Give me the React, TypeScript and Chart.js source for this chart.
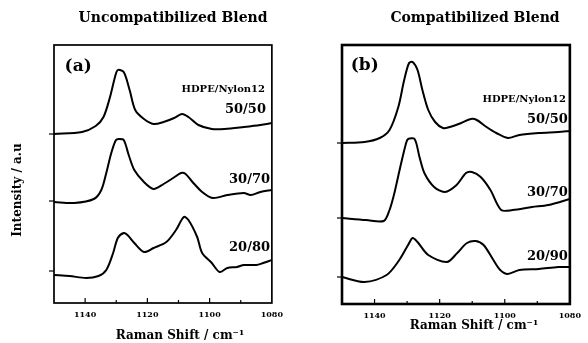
import { useEffect, useRef } from "react";
import { Chart, registerables } from "chart.js";

Chart.register(...registerables);

// Raman shift (cm⁻¹) and offset intensity (a.u.) for the uncompatibilized blends
const shiftA5050 = [1150, 1141, 1136.6, 1134.1, 1132, 1130.4, 1129.5, 1127.6, 1125.7, 1123.9, 1121.1, 1118, 1114.8, 1111.4, 1108.9, 1106.8, 1103.6, 1099.3, 1095.2, 1089, 1083.7, 1080];
const intA5050 = [169, 171, 177, 186, 206, 226, 233, 231, 213, 193, 184, 179, 181, 185, 189, 186, 178, 174, 174, 176, 178, 180];

const shiftA3070 = [1150, 1143.5, 1137.2, 1134.8, 1133.2, 1131.6, 1130.1, 1129.2, 1127.6, 1126, 1124.2, 1121.1, 1118, 1114.8, 1111.7, 1109.2, 1107.7, 1105.5, 1102.4, 1099, 1094.3, 1089, 1086.8, 1083.7, 1080];
const intA3070 = [101, 100, 104, 113, 130, 150, 163, 164, 163, 148, 133, 121, 114, 119, 125, 130, 129, 121, 111, 105, 108, 110, 108, 111, 113];

const shiftA2080 = [1150, 1145, 1139.7, 1135.7, 1133.2, 1131, 1129.5, 1127.6, 1126.4, 1124.2, 1121.1, 1118, 1113.9, 1110.8, 1108.3, 1106.8, 1104, 1102.4, 1099.3, 1096.8, 1094.3, 1091.2, 1089, 1085, 1082.8, 1080];
const intA2080 = [28, 27, 25, 27, 33, 50, 65, 70, 68, 60, 51, 55, 61, 73, 86, 83, 66, 50, 40, 31, 35, 36, 38, 38, 40, 43];

// Raman shift (cm⁻¹) and offset intensity (a.u.) for the compatibilized blends
const shiftB5050 = [1150, 1143.1, 1138.4, 1135.4, 1132.7, 1130.9, 1129.4, 1128.3, 1126.8, 1125.3, 1123.5, 1121.4, 1119, 1116.9, 1113.4, 1110.4, 1108.6, 1105.6, 1102.6, 1099.1, 1095.5, 1089.5, 1083.6, 1080];
const intB5050 = [161, 162, 166, 174, 197, 224, 241, 242, 234, 214, 194, 182, 176, 177, 181, 185, 184, 177, 171, 166, 169, 171, 172, 173];

const shiftB3070 = [1150, 1142.6, 1137.2, 1135.4, 1133.9, 1132.1, 1130.3, 1129.7, 1127.7, 1126.2, 1124.7, 1121.7, 1118.4, 1114.8, 1111.9, 1110.1, 1107.4, 1104.4, 1101.1, 1097.6, 1091.6, 1086.6, 1080];
const intB3070 = [86, 84, 83, 94, 111, 137, 161, 165, 165, 147, 131, 117, 112, 119, 131, 132, 127, 114, 94, 94, 97, 99, 105];

const shiftB2090 = [1150, 1143.1, 1136.3, 1132.4, 1129.7, 1128.3, 1126.8, 1123.5, 1117.8, 1114.6, 1111.6, 1108.9, 1106.5, 1103.5, 1101.4, 1099.1, 1095.5, 1089.5, 1083.6, 1080];
const intB2090 = [27, 22, 29, 44, 59, 66, 62, 49, 42, 51, 61, 63, 59, 44, 34, 30, 34, 35, 37, 37];

// Baseline levels marked on the intensity axis
const baselinesA = [32, 102, 169];
const baselinesB = [27, 86, 161];

// Blend ratio labels (HDPE/Nylon12)
const ratiosA = ["50/50", "30/70", "20/80"];
const ratiosB = ["50/50", "30/70", "20/90"];

const SERIF = "'DejaVu Serif', 'Liberation Serif', serif";

type Label = { text: string; x: number; y: number; size: number; align: CanvasTextAlign };

type PanelConfig = {
  left: number;
  width: number;
  padLeft: number;
  padRight: number;
  xAxisHeight: number;
  yMax: number;
  frameWidth: number;
  title: string;
  titleX: number;
  axisTitleX: number;
  axisTitleY: number;
  showYTitle: boolean;
  baselines: number[];
  series: { shift: number[]; intensity: number[] }[];
  labels: Label[];
};

const panels: PanelConfig[] = [
  {
    left: 0,
    width: 290,
    padLeft: 54,
    padRight: 11,
    xAxisHeight: 40,
    yMax: 258,
    frameWidth: 1.7,
    title: "Uncompatibilized Blend",
    titleX: 173,
    axisTitleX: 180,
    axisTitleY: 336,
    showYTitle: true,
    baselines: baselinesA,
    series: [
      { shift: shiftA5050, intensity: intA5050 },
      { shift: shiftA3070, intensity: intA3070 },
      { shift: shiftA2080, intensity: intA2080 },
    ],
    labels: [
      { text: "(a)", x: 1146.6, y: 236, size: 17, align: "left" },
      { text: "HDPE/Nylon12", x: 1082.2, y: 214, size: 10, align: "right" },
      { text: ratiosA[0], x: 1081.9, y: 193, size: 13, align: "right" },
      { text: ratiosA[1], x: 1080.6, y: 123, size: 13, align: "right" },
      { text: ratiosA[2], x: 1080.6, y: 55, size: 13, align: "right" },
    ],
  },
  {
    left: 290,
    width: 298,
    padLeft: 52,
    padRight: 11,
    xAxisHeight: 39,
    yMax: 259,
    frameWidth: 2.6,
    title: "Compatibilized Blend",
    titleX: 185,
    axisTitleX: 184,
    axisTitleY: 326,
    showYTitle: false,
    baselines: baselinesB,
    series: [
      { shift: shiftB5050, intensity: intB5050 },
      { shift: shiftB3070, intensity: intB3070 },
      { shift: shiftB2090, intensity: intB2090 },
    ],
    labels: [
      { text: "(b)", x: 1147.3, y: 238, size: 17, align: "left" },
      { text: "HDPE/Nylon12", x: 1081.2, y: 205, size: 10, align: "right" },
      { text: ratiosB[0], x: 1080.6, y: 184, size: 13, align: "right" },
      { text: ratiosB[1], x: 1080.6, y: 111, size: 13, align: "right" },
      { text: ratiosB[2], x: 1080.6, y: 47, size: 13, align: "right" },
    ],
  },
];

function makePlugin(cfg: PanelConfig) {
  return {
    id: "panelDecor",
    afterDraw(chart: any) {
      const { ctx, chartArea } = chart;
      const xs = chart.scales.x;
      const ys = chart.scales.y;
      ctx.save();

      // frame
      ctx.strokeStyle = "#000";
      ctx.lineWidth = cfg.frameWidth;
      ctx.strokeRect(chartArea.left, chartArea.top, chartArea.right - chartArea.left, chartArea.bottom - chartArea.top);

      // inward x ticks
      ctx.lineWidth = 1.2;
      xs.ticks.forEach((t: any) => {
        const px = xs.getPixelForValue(t.value);
        if (px <= chartArea.left + 1 || px >= chartArea.right - 1) return;
        const len = t.value % 20 === 0 ? 5 : 3;
        ctx.beginPath();
        ctx.moveTo(px, chartArea.bottom);
        ctx.lineTo(px, chartArea.bottom - len);
        ctx.stroke();
      });

      // outward baseline ticks on the intensity axis
      cfg.baselines.forEach((v) => {
        const py = ys.getPixelForValue(v);
        ctx.beginPath();
        ctx.moveTo(chartArea.left - 5, py);
        ctx.lineTo(chartArea.left, py);
        ctx.stroke();
      });

      ctx.fillStyle = "#000";

      // panel title
      ctx.font = `bold 14px ${SERIF}`;
      ctx.textAlign = "center";
      ctx.textBaseline = "middle";
      ctx.fillText(cfg.title, cfg.titleX, 18);

      // axis titles
      ctx.font = `bold 12px ${SERIF}`;
      ctx.fillText("Raman Shift / cm⁻¹", cfg.axisTitleX, cfg.axisTitleY);
      if (cfg.showYTitle) {
        ctx.save();
        ctx.translate(18, 190);
        ctx.rotate(-Math.PI / 2);
        ctx.fillText("Intensity / a.u", 0, 0);
        ctx.restore();
      }

      // in-plot labels
      cfg.labels.forEach((l) => {
        ctx.font = `bold ${l.size}px ${SERIF}`;
        ctx.textAlign = l.align;
        ctx.fillText(l.text, xs.getPixelForValue(l.x), ys.getPixelForValue(l.y));
      });

      ctx.restore();
    },
  };
}

function Panel({ cfg }: { cfg: PanelConfig }) {
  const ref = useRef<HTMLCanvasElement | null>(null);

  useEffect(() => {
    if (!ref.current) return;
    const chart = new Chart(ref.current, {
      type: "scatter",
      data: {
        datasets: cfg.series.map((s) => ({
          data: s.shift.map((x, i) => ({ x, y: s.intensity[i] })),
          showLine: true,
          borderColor: "#000",
          borderWidth: 2,
          pointRadius: 0,
          tension: 0.3,
          fill: false,
        })),
      },
      options: {
        responsive: false,
        animation: false,
        devicePixelRatio: 1,
        layout: { padding: { left: cfg.padLeft, right: cfg.padRight, top: 45, bottom: 0 } },
        plugins: { legend: { display: false }, tooltip: { enabled: false }, title: { display: false } },
        scales: {
          x: {
            type: "linear",
            reverse: true,
            min: 1080,
            max: 1150,
            border: { display: false },
            grid: { display: false, drawTicks: false },
            ticks: {
              stepSize: 10,
              autoSkip: false,
              maxRotation: 0,
              padding: 7,
              color: "#000",
              font: { family: SERIF, weight: "bold", size: 8 },
              callback: (v: any) => (Number(v) % 20 === 0 ? String(v) : ""),
            },
            afterFit: (s: any) => {
              s.height = cfg.xAxisHeight;
            },
          },
          y: { display: false, min: 0, max: cfg.yMax },
        },
      } as any,
      plugins: [makePlugin(cfg)],
    });
    return () => chart.destroy();
  }, [cfg]);

  return (
    <canvas
      ref={ref}
      width={cfg.width}
      height={343}
      style={{ position: "absolute", left: cfg.left, top: 0, width: cfg.width, height: 343 }}
    />
  );
}

export default function App() {
  return (
    <div style={{ position: "fixed", left: 0, top: 0, width: 588, height: 343, background: "#fff" }}>
      {panels.map((p) => (
        <Panel key={p.title} cfg={p} />
      ))}
    </div>
  );
}
